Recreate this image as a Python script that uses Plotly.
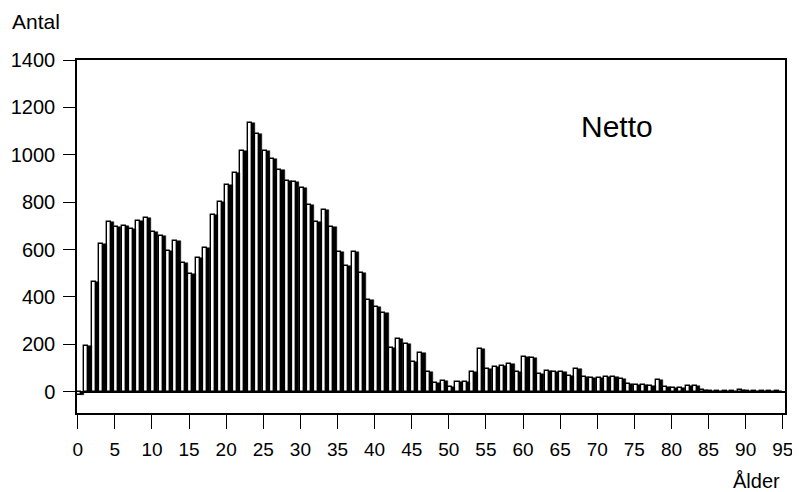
import plotly.graph_objects as go

ages = list(range(0, 95))
antal = [
    -14, 192, 465, 624, 716, 694, 700, 686, 720, 732,
    672, 658, 592, 636, 545, 498, 565, 606, 746, 800,
    872, 925, 1014, 1136, 1087, 1014, 981, 936, 890, 887,
    859, 790, 717, 765, 694, 589, 529, 589, 500, 385,
    358, 332, 185, 222, 200, 127, 162, 83, 37, 44,
    20, 42, 42, 83, 180, 95, 104, 109, 116, 82,
    146, 142, 76, 86, 85, 83, 66, 94, 61, 57,
    57, 61, 62, 53, 32, 28, 28, 25, 49, 21,
    17, 14, 25, 24, 7, 3, 2, 3, 3, 9,
    3, 2, 2, 1, 1,
]
x_ticks = list(range(0, 96, 5))
y_ticks = list(range(0, 1401, 200))

FONT = "Liberation Sans, Arial, Helvetica, sans-serif"

fig = go.Figure()
# white face of each bar
fig.add_trace(go.Bar(
    x=ages, y=antal, offset=-0.1, width=0.54,
    marker=dict(color="white", line=dict(color="black", width=1.4)),
    hoverinfo="x+y", showlegend=False,
))
# dark side of each bar
fig.add_trace(go.Bar(
    x=ages, y=antal, offset=0.44, width=0.44,
    marker=dict(color="black", line=dict(color="black", width=0.5)),
    hoverinfo="skip", showlegend=False,
))

fig.update_layout(
    width=792, height=484,
    margin=dict(l=69, r=15, t=52, b=79, autoexpand=False),
    paper_bgcolor="white", plot_bgcolor="white",
    barmode="overlay", bargap=0,
    font=dict(family=FONT, size=18, color="black"),
    annotations=[
        dict(text="Antal", xref="paper", yref="paper", x=-0.0946, y=1.108,
             xanchor="left", yanchor="middle", showarrow=False,
             font=dict(family=FONT, size=21, color="black")),
        dict(text="Ålder", xref="paper", yref="paper", x=0.996, y=-0.193,
             xanchor="right", yanchor="middle", showarrow=False,
             font=dict(family=FONT, size=20, color="black")),
        dict(text="Netto", xref="x", yref="y", x=67.6, y=1118,
             xanchor="left", yanchor="middle", showarrow=False,
             font=dict(family=FONT, size=30, color="black")),
    ],
)
fig.update_xaxes(
    range=[-0.1, 95.3], tickvals=x_ticks, ticktext=[str(v) for v in x_ticks],
    ticks="outside", ticklen=14, tickwidth=1.3, tickcolor="black",
    ticklabelstandoff=4,
    showline=True, mirror=True, linecolor="black", linewidth=1.5,
    showgrid=False, zeroline=False, tickfont=dict(size=19),
)
fig.update_yaxes(
    range=[-90, 1400], tickvals=y_ticks, ticktext=[str(v) for v in y_ticks],
    ticks="outside", ticklen=12, tickwidth=1.3, tickcolor="black",
    ticklabelstandoff=4,
    showline=True, mirror=True, linecolor="black", linewidth=1.5,
    showgrid=False, zeroline=True, zerolinecolor="black", zerolinewidth=1.5,
    tickfont=dict(size=20),
)

fig.write_html("out.html")
